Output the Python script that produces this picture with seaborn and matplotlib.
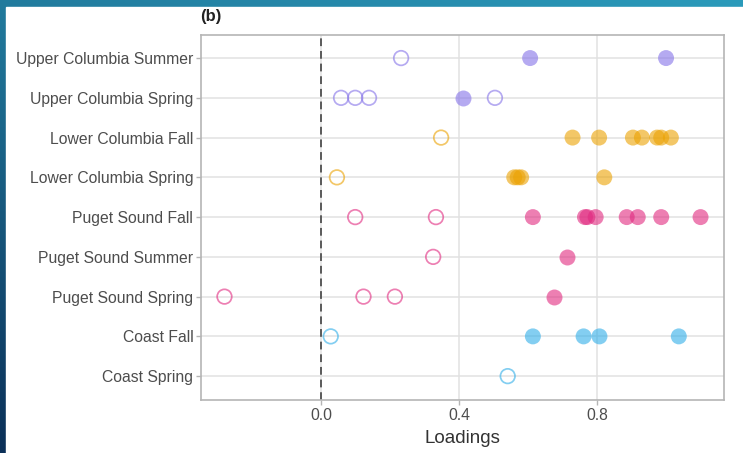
import numpy as np
import pandas as pd
import matplotlib.pyplot as plt
import seaborn as sns
from matplotlib.patches import Rectangle

# ── Data ───────────────────────────────────────────────────────────────────────

populations = [
    "Upper Columbia Summer", "Upper Columbia Spring",
    "Lower Columbia Fall", "Lower Columbia Spring",
    "Puget Sound Fall", "Puget Sound Summer", "Puget Sound Spring",
    "Coast Fall", "Coast Spring",
]
regions = [
    "Upper Columbia", "Upper Columbia",
    "Lower Columbia", "Lower Columbia",
    "Puget Sound", "Puget Sound", "Puget Sound",
    "Coast", "Coast",
]
region_order = ["Upper Columbia", "Lower Columbia", "Puget Sound", "Coast"]
region_colors = ["#8472E8", "#EBA202", "#E12A80", "#30AEE8"]

# filled circles = strong loadings, open circles = weak loadings
uc_summer_filled = [0.606, 1.000]
uc_summer_open = [0.232]
uc_spring_filled = [0.412]
uc_spring_open = [0.058, 0.099, 0.139, 0.504]
lc_fall_filled = [0.729, 0.806, 0.904, 0.930, 0.974, 0.986, 1.014]
lc_fall_open = [0.348]
lc_spring_filled = [0.560, 0.570, 0.580, 0.821]
lc_spring_open = [0.046]
ps_fall_filled = [0.614, 0.765, 0.772, 0.796, 0.886, 0.918, 0.986, 1.100]
ps_fall_open = [0.099, 0.333]
ps_summer_filled = [0.714]
ps_summer_open = [0.325]
ps_spring_filled = [0.676]
ps_spring_open = [-0.280, 0.123, 0.214]
coast_fall_filled = [0.614, 0.761, 0.807, 1.037]
coast_fall_open = [0.028]
coast_spring_filled = []
coast_spring_open = [0.541]

filled = [uc_summer_filled, uc_spring_filled, lc_fall_filled, lc_spring_filled,
          ps_fall_filled, ps_summer_filled, ps_spring_filled,
          coast_fall_filled, coast_spring_filled]
opened = [uc_summer_open, uc_spring_open, lc_fall_open, lc_spring_open,
          ps_fall_open, ps_summer_open, ps_spring_open,
          coast_fall_open, coast_spring_open]


def to_frame(groups):
    rows = []
    for pop, reg, vals in zip(populations, regions, groups):
        for v in vals:
            rows.append({"population": pop, "region": reg, "loading": v})
    return pd.DataFrame(rows)


df_filled = to_frame(filled)
df_open = to_frame(opened)

# ── Setup ──────────────────────────────────────────────────────────────────────

sns.set_theme(style="white")
plt.rcParams["font.family"] = ["Liberation Sans", "DejaVu Sans"]

fig = plt.figure(figsize=(7.43, 4.53), dpi=100)

# blue slide frame behind the chart
bg = fig.add_axes([0, 0, 1, 1], zorder=-1)
gx, gy = np.meshgrid(np.linspace(0, 1, 200), np.linspace(0, 1, 200))
t = (0.3 * gx + 0.7 * gy)[..., None]
navy = np.array([11, 48, 88]) / 255
teal = np.array([43, 155, 187]) / 255
bg.imshow(navy * (1 - t) + teal * t, extent=[0, 1, 0, 1], origin="lower", aspect="auto")
bg.add_patch(Rectangle((6 / 743, 0), 1, 1 - 7 / 453, color="white"))
bg.set_xlim(0, 1)
bg.set_ylim(0, 1)
bg.axis("off")

ax = fig.add_axes([201 / 743, 1 - 400 / 453, 523 / 743, 365 / 453])
ax.set_facecolor("white")

# ── Points ─────────────────────────────────────────────────────────────────────

sns.stripplot(data=df_filled, x="loading", y="population", order=populations,
              hue="region", hue_order=region_order, palette=region_colors,
              jitter=False, size=11.5, alpha=0.6, linewidth=0, legend=False,
              ax=ax, zorder=3)

n_before = len(ax.collections)
sns.stripplot(data=df_open, x="loading", y="population", order=populations,
              hue="region", hue_order=region_order, palette=region_colors,
              jitter=False, size=10.5, alpha=0.6, linewidth=1.25, legend=False,
              ax=ax, zorder=3)
for coll in ax.collections[n_before:]:
    fc = coll.get_facecolors()
    coll.set_edgecolors(fc)
    coll.set_facecolors("none")

ax.axvline(0, color="#5a5a5a", ls=(0, (4, 2.5)), lw=1.4, zorder=2)

# ── Styling ────────────────────────────────────────────────────────────────────

ax.set_xlim(-0.348, 1.168)
ax.set_ylim(8.6, -0.58)
ax.set_xticks([0.0, 0.4, 0.8])
ax.set_xticklabels(["0.0", "0.4", "0.8"])
ax.grid(True, color="#e1e1e1", lw=1.1, zorder=0)
ax.set_axisbelow(True)
for s in ax.spines.values():
    s.set_color("#b5b5b5")
    s.set_linewidth(1.2)
ax.tick_params(axis="both", length=3.5, width=1, color="#b5b5b5",
               labelcolor="#4d4d4d", labelsize=11.3, pad=2, left=True, bottom=True)
ax.set_xlabel("Loadings", fontsize=13.5, color="#333333", labelpad=5)
ax.set_ylabel("")

fig.text(200 / 743, 1 - 16 / 453, "(b)", fontsize=12, fontweight="bold",
         ha="left", va="center", color="#222222")

fig.savefig("out.png", dpi=100)
plt.close()
